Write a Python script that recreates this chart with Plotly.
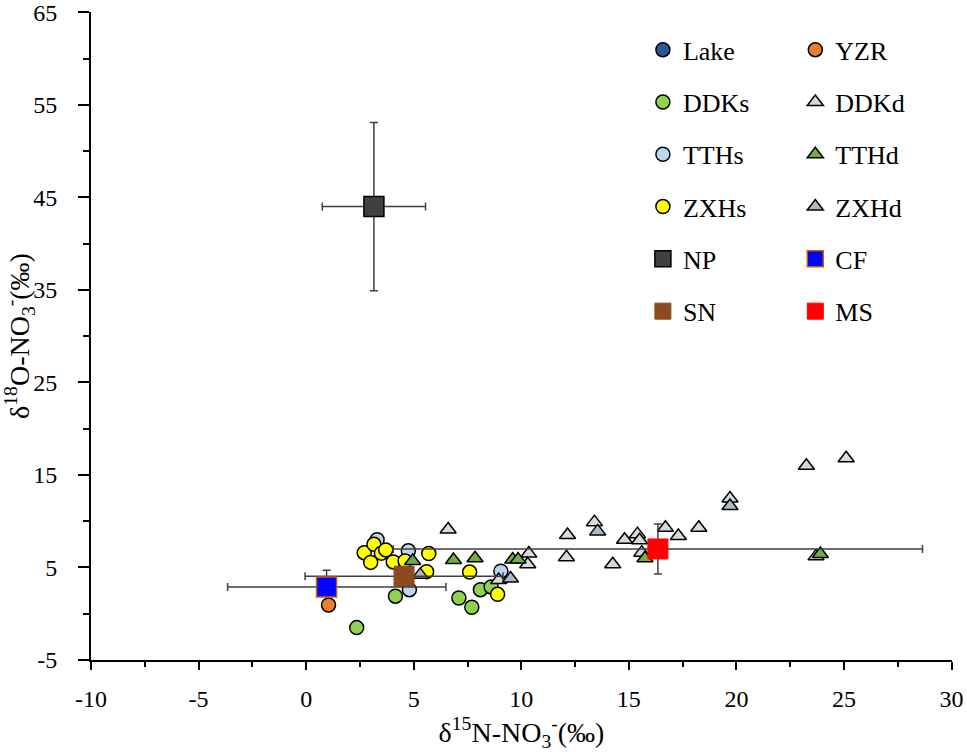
import plotly.graph_objects as go

# surface water samples (circles = surface, triangles = deep)
lake_x = [None]
lake_y = [None]
yzr_x = [1.04]
yzr_y = [0.94]
ddks_x = [2.35, 4.15, 7.1, 7.7, 8.1, 8.6]
ddks_y = [-1.5, 1.9, 1.7, 0.7, 2.6, 2.9]
ddkd_x = [6.6, 10.35, 10.3, 8.95, 12.15, 12.1, 13.4, 14.25, 14.8, 15.4, 15.5, 15.6,
          16.7, 17.3, 18.25, 19.7, 23.25, 25.1, 23.7]
ddkd_y = [9.1, 6.5, 5.35, 3.65, 8.5, 6.1, 9.9, 5.35, 8.0, 8.6, 7.95, 6.6,
          9.3, 8.4, 9.3, 12.45, 16.0, 16.8, 6.2]
tths_x = [3.3, 4.75, 4.8, 9.05]
tths_y = [8.0, 6.8, 2.6, 4.6]
tthd_x = [4.95, 6.85, 7.85, 9.6, 9.85, 15.75, 23.9]
tthd_y = [5.7, 5.8, 6.0, 5.85, 5.85, 6.0, 6.45]
zxhs_x = [2.7, 3.15, 3.5, 3.0, 3.7, 4.05, 4.6, 5.7, 5.6, 7.6, 8.9]
zxhs_y = [6.6, 7.5, 6.55, 5.55, 6.9, 5.6, 5.7, 6.5, 4.55, 4.5, 2.1]
zxhd_x = [9.5, 13.55, 19.7, 5.3]
zxhd_y = [3.8, 8.9, 11.65, 4.2]

# source end-members (mean +- sd)
np_x, np_y, np_sx, np_sy = [3.15], [44.0], [2.4], [9.1]
cf_x, cf_y, cf_sx_plus, cf_sx_minus, cf_sy = [0.95], [2.9], [5.55], [4.6], [1.8]
sn_x, sn_y, sn_sx = [4.55], [4.05], [4.6]
ms_x, ms_y, ms_sx, ms_sy = [16.35], [7.0], [12.3], [2.7]

# axis ticks (plain hyphen minus like the original)
x_ticks = [-10, -5, 0, 5, 10, 15, 20, 25, 30]
y_ticks = [-5, 5, 15, 25, 35, 45, 55, 65]

FONT = "Times New Roman, Liberation Serif, serif"
EB = dict(color="#404040", thickness=1.5, width=4)

fig = go.Figure()


def pts(x, y, name, color, symbol, size, legend, line_color="black"):
    fig.add_trace(go.Scatter(
        x=x, y=y, mode="markers", name=name, legend=legend, legendgroup=name,
        marker=dict(color=color, symbol=symbol, size=size,
                    line=dict(color=line_color, width=1.5))))


pts(lake_x, lake_y, "Lake", "#2F5597", "circle", 14, "legend")
pts(ddks_x, ddks_y, "DDKs", "#92D050", "circle", 14, "legend")
pts(tths_x, tths_y, "TTHs", "#BDD7EE", "circle", 14, "legend")
pts(zxhs_x, zxhs_y, "ZXHs", "#FFFF00", "circle", 14, "legend")
pts(yzr_x, yzr_y, "YZR", "#ED7D31", "circle", 14, "legend2")
pts(ddkd_x, ddkd_y, "DDKd", "#D9D9D9", "triangle-up", 14, "legend2")
pts(tthd_x, tthd_y, "TTHd", "#70AD47", "triangle-up", 14, "legend2")
pts(zxhd_x, zxhd_y, "ZXHd", "#ADB9CA", "triangle-up", 14, "legend2")

fig.add_trace(go.Scatter(
    x=np_x, y=np_y, mode="markers", name="NP", legend="legend", legendgroup="NP",
    marker=dict(color="#404040", symbol="square", size=20, line=dict(color="black", width=1.5)),
    error_x=dict(type="data", array=np_sx, **EB),
    error_y=dict(type="data", array=np_sy, **EB)))
fig.add_trace(go.Scatter(
    x=sn_x, y=sn_y, mode="markers", name="SN", legend="legend", legendgroup="SN",
    marker=dict(color="#8B4A1F", symbol="square", size=20, line=dict(color="#8B4A1F", width=1)),
    error_x=dict(type="data", array=sn_sx, **EB)))
fig.add_trace(go.Scatter(
    x=cf_x, y=cf_y, mode="markers", name="CF", legend="legend2", legendgroup="CF",
    marker=dict(color="#0000FF", symbol="square", size=20, line=dict(color="#C55A11", width=1.5)),
    error_x=dict(type="data", symmetric=False, array=cf_sx_plus, arrayminus=cf_sx_minus, **EB),
    error_y=dict(type="data", symmetric=False, array=cf_sy, arrayminus=[0], **EB)))
fig.add_trace(go.Scatter(
    x=ms_x, y=ms_y, mode="markers", name="MS", legend="legend2", legendgroup="MS",
    marker=dict(color="#FF0000", symbol="square", size=20, line=dict(color="#FF0000", width=1)),
    error_x=dict(type="data", array=ms_sx, **EB),
    error_y=dict(type="data", array=ms_sy, **EB)))

leg = dict(font=dict(family=FONT, size=26, color="black"), bgcolor="rgba(0,0,0,0)",
           tracegroupgap=15.5, yanchor="top", y=0.978, xanchor="left", itemsizing="trace")

axis_common = dict(showgrid=False, zeroline=False, automargin=False,
                   showline=True, linecolor="black", linewidth=2,
                   ticks="outside", tickwidth=1.5, tickcolor="black",
                   ticklabeloverflow="allow",
                   tickfont=dict(family=FONT, size=24, color="black"))

fig.update_layout(
    width=967, height=752,
    margin=dict(l=91, r=15, t=12, b=92),
    plot_bgcolor="white", paper_bgcolor="white",
    font=dict(family=FONT, size=24, color="black"),
    showlegend=True,
    legend=dict(leg, x=0.641),
    legend2=dict(leg, x=0.818),
    xaxis=dict(axis_common, range=[-10, 30.02], ticklen=8, ticklabelstandoff=8,
               tickvals=x_ticks, ticktext=[str(v) for v in x_ticks],
               minor=dict(ticks="outside", dtick=2.5, tick0=-10, ticklen=5, tickwidth=1.5,
                          tickcolor="black"),
               title=dict(text="δ<sup>15</sup>N-NO<sub>3</sub><sup>-</sup>(‰)",
                          font=dict(family=FONT, size=28), standoff=14)),
    yaxis=dict(axis_common, range=[-5, 65.03], ticklen=11, ticklabelstandoff=16,
               tickvals=y_ticks, ticktext=[str(v) for v in y_ticks],
               minor=dict(ticks="outside", dtick=5, tick0=-5, ticklen=6, tickwidth=1.5,
                          tickcolor="black"),
               title=dict(text="δ<sup>18</sup>O-NO<sub>3</sub><sup>-</sup>(‰)",
                          font=dict(family=FONT, size=28), standoff=2)),
)

# drop the default page margin so the figure fills the window
fig.write_html("out.html", config={"displayModeBar": False},
               post_script="document.body.style.margin='0';")
